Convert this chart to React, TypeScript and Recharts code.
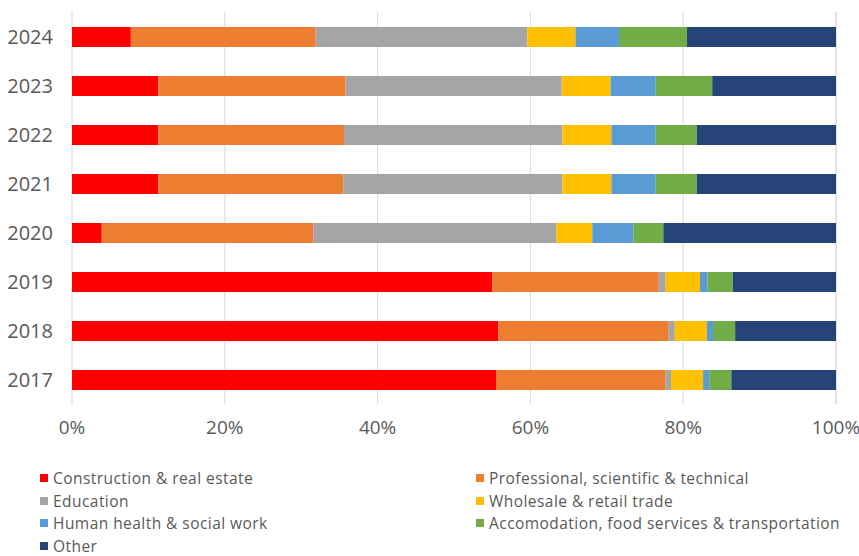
import React from "react";
import { BarChart, Bar, XAxis, YAxis, CartesianGrid } from "recharts";

const years = ["2024", "2023", "2022", "2021", "2020", "2019", "2018", "2017"];

const seriesNames = [
  "Construction & real estate",
  "Professional, scientific & technical",
  "Education",
  "Wholesale & retail trade",
  "Human health & social work",
  "Accomodation, food services & transportation",
  "Other",
];

const seriesColors = ["#FF0000", "#ED7D31", "#A5A5A5", "#FFC000", "#5B9BD5", "#70AD47", "#264478"];

// values in %, order matches years
const construction = [7.7, 11.3, 11.3, 11.3, 3.9, 55.0, 55.8, 55.5];
const professional = [24.2, 24.5, 24.3, 24.2, 27.7, 21.8, 22.3, 22.2];
const education = [27.7, 28.3, 28.6, 28.7, 31.8, 0.9, 0.8, 0.7];
const wholesale = [6.3, 6.4, 6.4, 6.4, 4.7, 4.5, 4.2, 4.2];
const health = [5.7, 5.9, 5.8, 5.8, 5.4, 1.0, 0.8, 0.8];
const accomodation = [8.9, 7.4, 5.4, 5.4, 3.9, 3.3, 2.9, 2.9];
const other = [19.5, 16.2, 18.2, 18.2, 22.6, 13.5, 13.2, 13.7];

const xTicks = [0, 20, 40, 60, 80, 100];

const seriesValues = [construction, professional, education, wholesale, health, accomodation, other];
const keys = ["s0", "s1", "s2", "s3", "s4", "s5", "s6"];

const data = years.map((y, i) => {
  const row: Record<string, string | number> = { year: y };
  seriesValues.forEach((vals, k) => {
    row[keys[k]] = vals[i];
  });
  return row;
});

const FONT = "'Open Sans', sans-serif";
const TEXT = "#595959";

export default function App() {
  const legendRows: number[][] = [];
  for (let i = 0; i < seriesNames.length; i += 2) {
    legendRows.push(i + 1 < seriesNames.length ? [i, i + 1] : [i]);
  }
  return (
    <div style={{ position: "absolute", left: 0, top: 0, width: 859, height: 556, background: "#fff", fontFamily: FONT }}>
      <BarChart
        width={859}
        height={444}
        data={data}
        layout="vertical"
        margin={{ top: 12, right: 23, bottom: 0, left: 0 }}
        barSize={20}
      >
        <CartesianGrid horizontal={false} vertical={true} stroke="#D9D9D9" />
        <XAxis
          type="number"
          domain={[0, 100]}
          ticks={xTicks}
          tickFormatter={(v: number) => `${v}%`}
          axisLine={false}
          tickLine={false}
          tickSize={8}
          tickMargin={9}
          height={40}
          tick={{ fill: TEXT, fontSize: 19, fontFamily: FONT }}
          interval={0}
        />
        <YAxis
          type="category"
          dataKey="year"
          width={72}
          axisLine={false}
          tickLine={false}
          tickSize={8}
          tickMargin={11}
          tick={{ fill: TEXT, fontSize: 20, fontFamily: FONT }}
          interval={0}
        />
        {keys.map((k, i) => (
          <Bar key={k} dataKey={k} name={seriesNames[i]} stackId="a" fill={seriesColors[i]} isAnimationActive={false} />
        ))}
      </BarChart>
      <div style={{ position: "absolute", left: 40, top: 467, width: 819 }}>
        {legendRows.map((row, ri) => (
          <div key={ri} style={{ position: "relative", height: 22.5 }}>
            {row.map((idx, ci) => (
              <div
                key={idx}
                style={{
                  position: "absolute",
                  left: ci === 0 ? 0 : 436,
                  top: 0,
                  display: "flex",
                  alignItems: "center",
                  height: 22,
                  whiteSpace: "nowrap",
                }}
              >
                <span style={{ display: "inline-block", width: 8, height: 8, background: seriesColors[idx], marginRight: 5 }} />
                <span style={{ color: TEXT, fontSize: 15.5, letterSpacing: 0.45, fontFamily: FONT }}>{seriesNames[idx]}</span>
              </div>
            ))}
          </div>
        ))}
      </div>
    </div>
  );
}
